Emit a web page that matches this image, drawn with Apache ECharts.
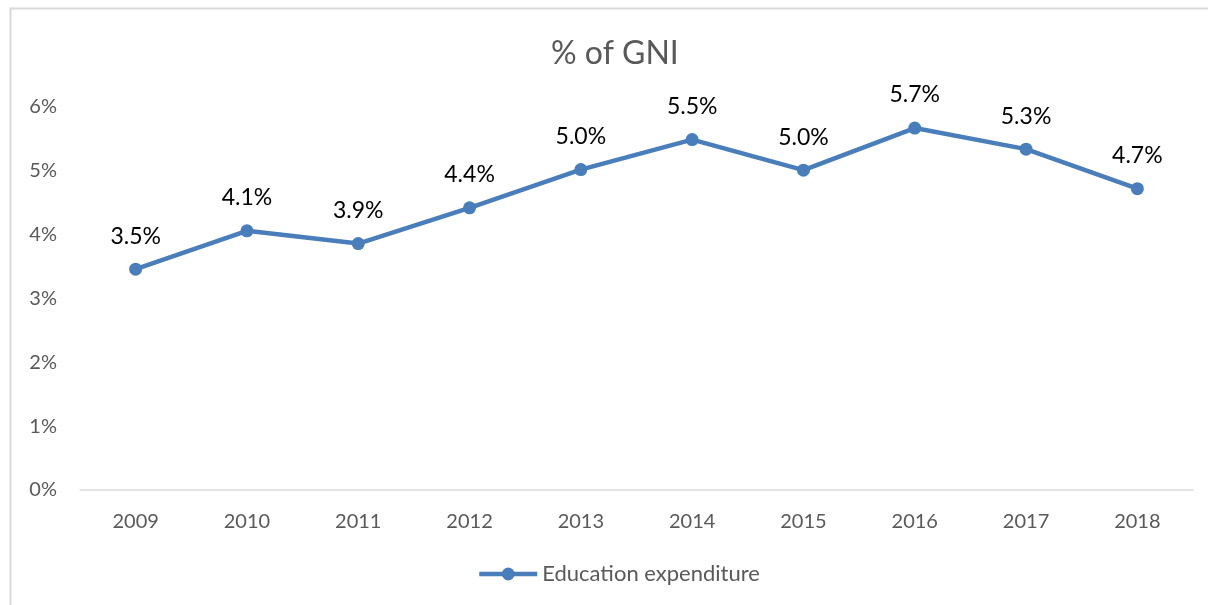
<!DOCTYPE html>
<html>
<head>
<meta charset="utf-8">
<title>% of GNI</title>
<script src="https://cdn.jsdelivr.net/npm/echarts@6/dist/echarts.min.js"></script>
<style>
	html, body { margin: 0; padding: 0; background: #fff; }
	#chart { width: 1208px; height: 605px; }
</style>
</head>
<body>
<div id="chart"></div>
<script>
	// data
	var years = ['2009', '2010', '2011', '2012', '2013', '2014', '2015', '2016', '2017', '2018'];
	var eduSpend = [3.46, 4.06, 3.86, 4.42, 5.02, 5.49, 5.01, 5.67, 5.34, 4.72];
	var seriesName = 'Education expenditure';

	var font = 'Lato, "Open Sans", sans-serif';
	var myChart = echarts.init(document.getElementById('chart'));
	var option = {
		animation: false,
		textStyle: { fontFamily: font },
		graphic: [{
			type: 'rect',
			shape: { x: 10.5, y: 8.5, width: 1210, height: 610 },
			style: { fill: 'none', stroke: '#d9d9d9', lineWidth: 2 }
		}],
		title: {
			text: '% of GNI',
			left: 546,
			top: 33,
			textStyle: { fontFamily: font, fontSize: 32, fontWeight: 'normal', color: '#595959' }
		},
		grid: { left: 80, right: 15, top: 107, bottom: 115 },
		legend: {
			bottom: 15,
			left: 472,
			itemWidth: 58,
			itemHeight: 16,
			itemGap: 4,
			textStyle: { fontFamily: font, fontSize: 22, color: '#595959' },
			lineStyle: { width: 4.5 },
			data: [seriesName]
		},
		xAxis: {
			type: 'category',
			data: years,
			axisLine: { lineStyle: { color: '#d9d9d9', width: 1.5 } },
			axisTick: { show: false },
			axisLabel: { color: '#595959', fontSize: 20, margin: 22, fontFamily: font }
		},
		yAxis: {
			type: 'value',
			min: 0,
			max: 6,
			interval: 1,
			axisLine: { show: false },
			axisTick: { show: false },
			splitLine: { show: false },
			axisLabel: {
				color: '#595959', fontSize: 20, margin: 23, fontFamily: font,
				formatter: function (v) { return v + '%'; }
			}
		},
		series: [{
			name: seriesName,
			type: 'line',
			data: eduSpend,
			symbol: 'circle',
			symbolSize: 13,
			lineStyle: { color: '#4a7ebb', width: 4.5 },
			itemStyle: { color: '#4a7ebb' },
			label: {
				show: true,
				position: 'top',
				distance: 15,
				color: '#000',
				fontSize: 23,
				fontFamily: font,
				formatter: function (p) { return p.value.toFixed(1) + '%'; }
			}
		}]
	};
	myChart.setOption(option);
</script>
</body>
</html>
